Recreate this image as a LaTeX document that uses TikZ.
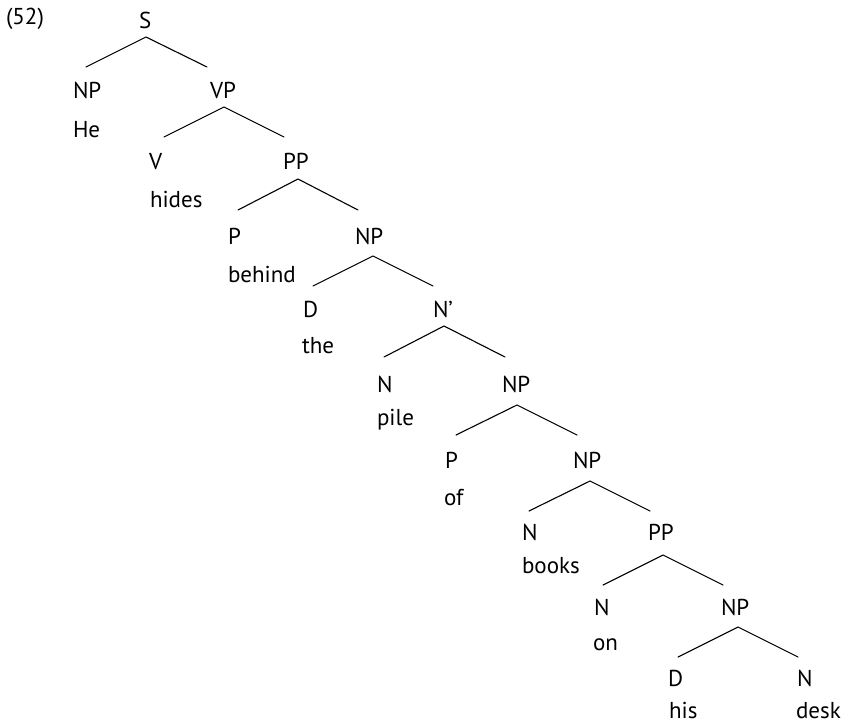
\documentclass[tikz,border=0pt]{standalone}
\usepackage{fontspec}
\setmainfont{PT Sans}
\begin{document}
\begin{tikzpicture}[x=1pt,y=-1pt,
  lab/.style={inner sep=0pt,outer sep=0pt,anchor=base west,font=\fontsize{23}{27}\selectfont},
  branch/.style={line width=1.1pt,line cap=round}]
\useasboundingbox (0,0) rectangle (845,723);
\node[lab] (ex) at (6,24) {(52)};
% categories
\node[lab] (S) at (139,28) {S};
\node[lab] (np1) at (73,98) {NP};
\node[lab] (vp) at (210,98) {VP};
\node[lab] (v) at (149,169) {V};
\node[lab] (pp1) at (283,169) {PP};
\node[lab] (p1) at (228,244) {P};
\node[lab] (np2) at (355,244) {NP};
\node[lab] (d1) at (303,317) {D};
\node[lab] (nbar) at (433,317) {N’};
\node[lab] (n1) at (377,392) {N};
\node[lab] (np3) at (502,392) {NP};
\node[lab] (p2) at (445,468) {P};
\node[lab] (np4) at (573,468) {NP};
\node[lab] (n2) at (522,540) {N};
\node[lab] (pp2) at (648,540) {PP};
\node[lab] (n3) at (594,615) {N};
\node[lab] (np5) at (721,615) {NP};
\node[lab] (d2) at (668,686) {D};
\node[lab] (n4) at (797,686) {N};
% words
\node[lab] (w1) at (73,137) {He};
\node[lab] (w2) at (150,207) {hides};
\node[lab] (w3) at (228,282) {behind};
\node[lab] (w4) at (302,353) {the};
\node[lab] (w5) at (377,425) {pile};
\node[lab] (w6) at (444,505) {of};
\node[lab] (w7) at (522,573) {books};
\node[lab] (w8) at (593,650) {on};
\node[lab] (w9) at (669,718) {his};
\node[lab] (w10) at (796,718) {desk};
% branch points
\coordinate (aS) at (146,37);  \coordinate (lS) at (86,67);   \coordinate (rS) at (207,67);
\coordinate (a2) at (224,107); \coordinate (l2) at (164,137); \coordinate (r2) at (284,137);
\coordinate (a3) at (298,179); \coordinate (l3) at (238,210); \coordinate (r3) at (358,210);
\coordinate (a4) at (373,256); \coordinate (l4) at (313,286); \coordinate (r4) at (433,286);
\coordinate (a5) at (444,326); \coordinate (l5) at (384,357); \coordinate (r5) at (505,357);
\coordinate (a6) at (517,405); \coordinate (l6) at (456,435); \coordinate (r6) at (577,435);
\coordinate (a7) at (590,481); \coordinate (l7) at (529,511); \coordinate (r7) at (650,511);
\coordinate (a8) at (663,555); \coordinate (l8) at (603,585); \coordinate (r8) at (723,585);
\coordinate (a9) at (738,627); \coordinate (l9) at (678,657); \coordinate (r9) at (798,657);
\foreach \i in {S,2,3,4,5,6,7,8,9}{
  \draw[branch] (l\i) -- (a\i) -- (r\i);
}
\end{tikzpicture}
\end{document}
